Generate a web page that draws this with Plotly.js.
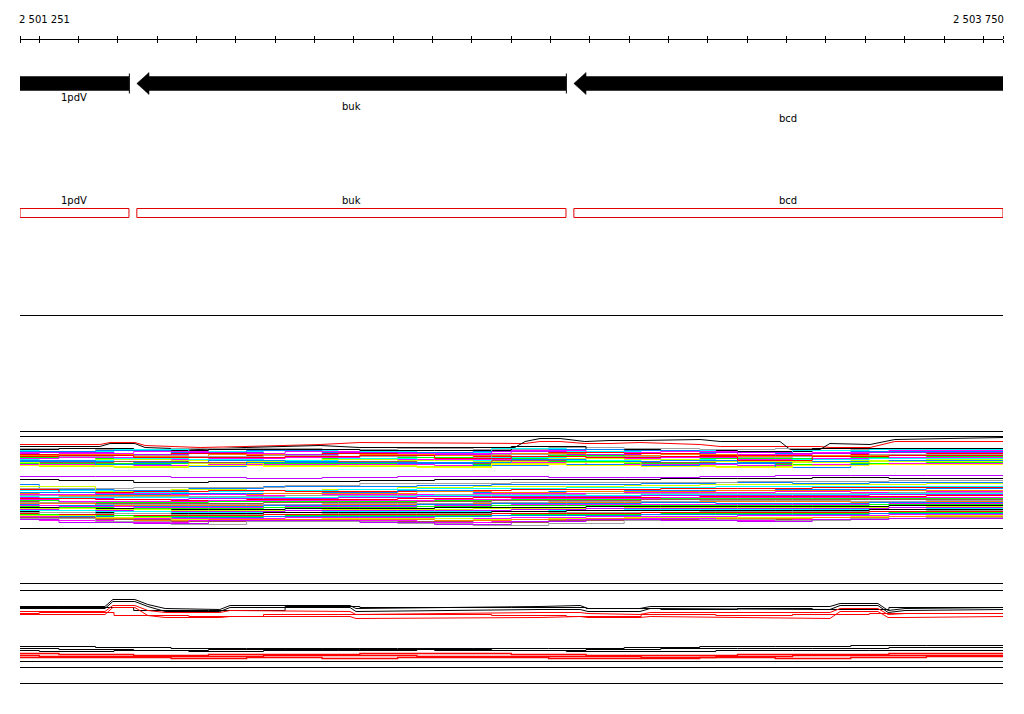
<!DOCTYPE html>
<html><head><meta charset="utf-8">
<script src="https://cdn.plot.ly/plotly-3.0.1.min.js"></script>
<style>html,body{margin:0;padding:0;background:#fff}#chart{width:1024px;height:714px}</style>
</head><body><div id="chart"></div>
<script>
// ---------- data ----------
const viewStart = 2501251;
const viewEnd = 2503750;
const endLabels = ['2 501 251', '2 503 750'];
const tickPositions = [2501251, 2501300, 2501400, 2501500, 2501600, 2501700, 2501800, 2501900,
  2502000, 2502100, 2502200, 2502300, 2502400, 2502500, 2502600, 2502700, 2502800, 2502900,
  2503000, 2503100, 2503200, 2503300, 2503400, 2503500, 2503600, 2503700, 2503750];

const geneNames = ['1pdV', 'buk', 'bcd'];
const geneStarts = [2501000, 2501548, 2502659];
const geneEnds = [2501528, 2502639, 2503750];
const geneStrands = ['-', '-', '-'];
const geneLabelRows = [97, 106, 118];

// track rows (vertical positions, in track units)
const geneRow = 83;
const boxRowTop = 208, boxRowBottom = 217, boxLabelRow = 200;
const ruleLines = [315, 431, 436, 528, 583, 590, 661, 667, 683];

// step-profile grids (bp)
const stepGrids = [
  [2501251, 2501443, 2501635, 2501827, 2502019, 2502211, 2502403, 2502595, 2502787, 2502979, 2503171, 2503363, 2503555, 2503750],
  [2501251, 2501350, 2501540, 2501730, 2501925, 2502115, 2502305, 2502500, 2502690, 2502880, 2503075, 2503265, 2503460, 2503750],
  [2501251, 2501300, 2501490, 2501680, 2501870, 2502060, 2502260, 2502450, 2502640, 2502830, 2503020, 2503215, 2503410, 2503750]
];

// upper coverage band
const bandAColors = ['#a0a0a0','#000000','#00ffff','#0080ff','#ff00ff','#c000ff','#ff0000','#ff8000',
  '#a0a0a0','#00ff00','#ff00ff','#00ffff','#ccff00','#0080ff','#a05050','#00ff00','#ff00ff','#ccff00',
  '#0080ff','#ff0000','#ffff00'];
const bandAGrid = [0,1,2,0,1,2,0,1,2,0,1,2,0,1,2,0,1,2,0,1,2];
const bandA = [
  [448,449,448,448,449,448,449,447,448,449,448,449,448],
  [449,448,450,449,449,450,450,446,449,450,451,448,448],
  [450,451,449,451,450,451,452,448,451,450,452,450,449],
  [451,450,452,450,452,452,451,449,450,452,453,451,451],
  [452,453,451,453,451,453,453,450,452,451,454,452,450],
  [453,452,454,452,454,452,454,451,454,453,452,453,452],
  [454,455,453,455,453,455,456,452,453,455,455,454,453],
  [455,454,456,454,456,454,455,453,455,454,456,455,455],
  [456,456,455,456,455,456,457,454,456,456,457,456,454],
  [457,458,457,457,458,457,458,455,457,458,458,457,456],
  [458,457,459,458,457,459,459,456,458,457,459,458,457],
  [459,460,458,459,460,458,460,457,460,459,460,459,458],
  [460,459,460,461,459,460,461,458,459,461,461,460,459],
  [461,461,462,460,461,462,462,459,461,460,462,461,460],
  [462,462,461,462,462,461,463,460,462,462,463,462,461],
  [463,463,463,463,463,463,464,461,463,463,464,463,462],
  [464,464,465,464,464,464,465,462,464,464,465,464,463],
  [462,466,467,463,465,466,466,463,462,465,466,462,461],
  [460,464,466,462,462,463,465,464,465,463,467,464,464],
  [456,455,457,457,456,455,458,456,457,456,460,456,455],
  [465,465,466,465,466,465,467,464,465,466,467,465,464]
];

// smooth profile lines above the upper band
const profAX = [2501251, 2501454, 2501480, 2501543, 2501569, 2501709, 2501823, 2502014, 2502115,
  2502509, 2502535, 2502573, 2502624, 2502687, 2502751, 2502827, 2502980, 2503031, 2503183,
  2503209, 2503285, 2503310, 2503412, 2503475, 2503750];
const profABlack = [446,446,443,443,447,449,447,445,447,447,441,438,438,441,440,440,439,441,441,449,449,443,444,439,437];
const profARed   = [444,444,442,442,445,447,446,444,442,443,443,441,441,443,443,442,444,446,446,446,446,447,447,441,441];

// lower coverage band
const bandBColors = ['#c000ff','#000000','#0080ff','#a0a0a0','#ccff00','#00ffff','#ff0000','#0080ff',
  '#ff8000','#ff00ff','#a0a0a0','#00ffff','#c000ff','#ff0000','#ff00ff','#00ff00','#a05050','#a0a0a0',
  '#ff8000','#0080ff','#ff00ff','#00ff00','#000000','#ccff00','#c000ff','#00ffff','#000000','#a0a0a0',
  '#ff0000','#00ff00','#0080ff','#ff00ff','#ccff00','#ff8000','#a05050','#ff00ff','#a0a0a0','#c000ff'];
const bandBGrid = [0,1,2,1,0,2,1,0,2,0,1,2,2,0,1,1,2,0,0,2,1,2,1,0,1,0,2,0,2,1,2,1,0,1,0,2,0,1];
const bandB = [
  [476,476,477,478,477,476,476,477,477,476,475,475,475],
  [479,480,482,481,481,480,479,479,479,478,478,477,478],
  [484,489,490,488,486,486,485,484,484,483,482,483,482],
  [488,488,487,487,485,483,483,482,482,482,481,481,480],
  [486,491,489,490,489,487,486,486,485,484,484,484,483],
  [490,490,492,491,490,489,488,488,487,487,486,486,486],
  [489,492,491,490,491,491,490,489,489,488,488,487,487],
  [492,494,493,493,492,490,492,491,490,490,489,489,488],
  [493,495,495,494,493,493,491,492,491,491,490,490,490],
  [494,493,494,495,494,494,493,493,492,492,491,492,491],
  [495,496,496,496,495,495,494,494,493,493,493,493,492],
  [496,497,497,497,497,496,495,495,495,494,494,494,493],
  [497,498,499,498,498,497,496,496,496,495,495,495,494],
  [498,499,500,499,499,498,497,497,497,496,496,496,495],
  [499,501,501,500,500,500,499,498,498,497,497,497,497],
  [500,502,502,501,501,501,500,499,499,498,498,498,498],
  [501,503,503,503,502,502,501,500,500,499,499,499,499],
  [502,504,504,504,503,503,502,501,501,500,500,501,500],
  [503,505,505,505,504,504,503,502,502,501,501,502,501],
  [504,505,506,506,505,505,504,503,503,502,503,503,502],
  [505,506,507,507,506,506,505,504,504,504,504,504,503],
  [506,507,508,508,507,507,506,505,505,505,505,505,504],
  [507,508,509,509,508,508,507,507,506,506,506,506,505],
  [508,509,510,510,509,509,508,508,507,507,507,507,506],
  [509,510,511,511,510,510,510,509,508,508,508,508,507],
  [510,511,512,512,511,511,511,510,509,509,509,509,508],
  [511,512,513,513,512,512,512,511,510,510,510,510,509],
  [512,513,514,514,513,513,513,512,512,511,511,511,510],
  [513,514,515,515,514,514,514,513,513,512,512,512,511],
  [514,515,516,516,515,515,515,514,514,513,513,513,512],
  [515,516,517,517,516,516,516,515,515,514,514,514,513],
  [516,518,518,518,517,517,518,517,516,516,515,515,514],
  [515,517,519,519,518,518,519,518,517,517,517,516,515],
  [517,518,520,519,519,519,520,519,518,518,518,517,516],
  [517,519,521,520,520,521,522,520,519,519,519,518,517],
  [516,520,522,520,520,520,522,521,519,518,520,519,518],
  [518,521,524,521,521,523,525,523,520,519,520,518,517],
  [519,522,523,520,520,522,524,521,519,520,521,519,518]
];

// lower profile section 1
const profCX = [2501251, 2501467, 2501487, 2501543, 2501576, 2501620, 2501759, 2501785, 2502090,
  2502105, 2502573, 2502675, 2502695, 2502827, 2502853, 2503310, 2503336, 2503432, 2503458, 2503501, 2503750];
const profCBlack1 = [606,606,599,599,604,608,609,605,605,608,606,605,608,608,606,606,603,603,610,608,607];
const profCBlack2 = [608,608,601,601,606,611,611,607,607,611,609,609,611,611,608,609,605,605,612,610,609];
const profCRed1   = [611,611,605,605,610,612,612,610,611,614,612,612,613,614,612,612,608,608,614,613,613];
const profCRed2   = [614,614,607,607,615,617,617,616,616,618,617,616,617,617,616,618,611,611,617,617,616];
const stepCBlack = [607,607,610,610,606,607,607,607,608,609,608,609,607];
const stepCRed   = [613,612,615,616,614,614,614,615,616,614,615,614,613];

// lower profile section 2
const stepDBlack = [
  [646,647,648,648,648,648,648,648,647,646,646,645,645],
  [648,649,650,649,649,649,650,650,649,648,648,648,647],
  [650,651,650,651,650,650,649,650,651,651,650,650,650]
];
const stepDRed = [
  [653,654,655,654,654,653,653,654,655,655,654,654,653],
  [655,656,656,656,655,655,656,656,656,657,656,655,655],
  [657,657,658,657,658,657,657,658,658,657,658,657,656]
];

// ---------- build ----------
const traces = [];
function stepTrace(vals, color, w, g) {
  return {x: stepGrids[g || 0], y: vals.concat([vals[vals.length - 1]]), mode: 'lines', type: 'scatter',
    line: {color: color, width: w, shape: 'hv'}, hoverinfo: 'skip', showlegend: false};
}
function lineTrace(xs, ys, color, w) {
  return {x: xs, y: ys, mode: 'lines', type: 'scatter', line: {color: color, width: w},
    hoverinfo: 'skip', showlegend: false};
}

// rule lines
(function () {
  const xs = [], ys = [];
  ruleLines.forEach(r => { xs.push(viewStart, viewEnd, null); ys.push(r, r, null); });
  traces.push(lineTrace(xs, ys, '#000000', 1));
})();

// genes: arrows
const hb = 7, hh = 11, headLen = 31;
geneNames.forEach((g, i) => {
  const s = geneStarts[i], e = Math.min(geneEnds[i], viewEnd);
  let xs, ys;
  if (geneStrands[i] === '-' && s >= viewStart) {
    xs = [e, s + headLen, s + headLen, s, s + headLen, s + headLen, e, e];
    ys = [geneRow - hb, geneRow - hb, geneRow - hh, geneRow, geneRow + hh, geneRow + hb, geneRow + hb, geneRow - hb];
  } else {
    const s0 = Math.max(s, viewStart);
    xs = [s0, e, e, s0, s0];
    ys = [geneRow - hb, geneRow - hb, geneRow + hb, geneRow + hb, geneRow - hb];
  }
  traces.push({x: xs, y: ys, mode: 'lines', fill: 'toself', fillcolor: '#000000',
    line: {color: '#000000', width: 0.5}, hoverinfo: 'skip', showlegend: false});
  if (geneEnds[i] < viewEnd) {
    traces.push(lineTrace([geneEnds[i] + 1, geneEnds[i] + 1], [geneRow - 10, geneRow + 10], '#000000', 1));
  }
  const b0 = Math.max(s, viewStart);
  traces.push(lineTrace([b0, e, e, b0, b0], [boxRowTop, boxRowTop, boxRowBottom, boxRowBottom, boxRowTop], '#e00000', 1));
});

// profile & bands
traces.push(lineTrace(profAX, profARed, '#ff0000', 1));
traces.push(lineTrace(profAX, profABlack, '#000000', 1));
bandA.forEach((v, i) => traces.push(stepTrace(v, bandAColors[i], 1, bandAGrid[i])));
bandB.forEach((v, i) => traces.push(stepTrace(v, bandBColors[i], 1, bandBGrid[i])));

traces.push(lineTrace(profCX, profCBlack1, '#000000', 1));
traces.push(lineTrace(profCX, profCBlack2, '#000000', 1));
traces.push(stepTrace(stepCBlack, '#000000', 1, 1));
traces.push(lineTrace(profCX, profCRed1, '#ff0000', 1));
traces.push(lineTrace(profCX, profCRed2, '#ff0000', 1));
traces.push(stepTrace(stepCRed, '#ff0000', 1, 2));
stepDBlack.forEach((v, i) => traces.push(stepTrace(v, '#000000', 1, i)));
stepDRed.forEach((v, i) => traces.push(stepTrace(v, '#ff0000', 1.3, (i + 1) % 3)));

// annotations
const annotations = [];
const font = {family: 'DejaVu Sans, Arial, sans-serif', size: 10, color: '#000000'};
geneNames.forEach((g, i) => {
  const s0 = Math.max(geneStarts[i], viewStart), e0 = Math.min(geneEnds[i], viewEnd);
  const mid = (s0 + e0) / 2;
  annotations.push({x: mid, y: geneLabelRows[i], xref: 'x', yref: 'y', text: g, showarrow: false, font: font, xanchor: 'center', yanchor: 'middle'});
  annotations.push({x: mid, y: boxLabelRow, xref: 'x', yref: 'y', text: g, showarrow: false, font: font, xanchor: 'center', yanchor: 'middle'});
});
annotations.push({x: viewStart, y: 19, xref: 'x', yref: 'y', text: endLabels[0], showarrow: false, font: font, xanchor: 'left', yanchor: 'middle', xshift: -3});
annotations.push({x: viewEnd, y: 19, xref: 'x', yref: 'y', text: endLabels[1], showarrow: false, font: font, xanchor: 'right', yanchor: 'middle', xshift: 3});

const axisPos = 1 - 38.5 / 714;
const layout = {
  width: 1024, height: 714,
  margin: {l: 0, r: 0, t: 0, b: 0},
  paper_bgcolor: '#ffffff', plot_bgcolor: '#ffffff',
  showlegend: false,
  xaxis: {domain: [20 / 1024, 1003 / 1024], range: [viewStart, viewEnd], anchor: 'free', position: axisPos,
    side: 'top', showline: true, linecolor: '#000000', linewidth: 1, ticks: 'outside', ticklen: 3,
    tickcolor: '#000000', tickvals: tickPositions, showticklabels: false, showgrid: false, zeroline: false},
  xaxis2: {domain: [20 / 1024, 1003 / 1024], range: [viewStart, viewEnd], overlaying: 'x', anchor: 'free',
    position: axisPos, side: 'bottom', showline: false, ticks: 'outside', ticklen: 3, tickcolor: '#000000',
    tickvals: tickPositions, showticklabels: false, showgrid: false, zeroline: false},
  // range shifted by half a unit so that whole-number rows land on pixel centres
  yaxis: {domain: [0, 1], range: [713.5, -0.5], visible: false, showgrid: false, zeroline: false},
  annotations: annotations
};
traces.push({x: [viewStart], y: [-10], xaxis: 'x2', mode: 'markers', marker: {size: 1, color: 'rgba(0,0,0,0)'}, hoverinfo: 'skip', showlegend: false});

Plotly.newPlot('chart', traces, layout, {staticPlot: true, displayModeBar: false});
</script>
</body></html>
